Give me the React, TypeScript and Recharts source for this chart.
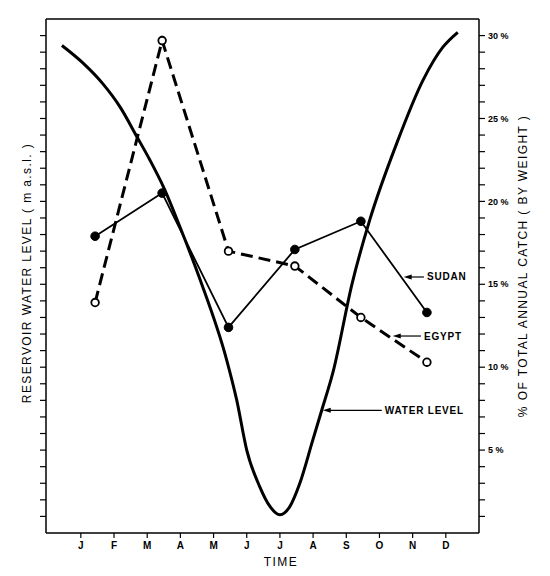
import {
  ComposedChart,
  Line,
  XAxis,
  YAxis,
  ReferenceLine,
  Label,
} from "recharts";

// month letters on the time axis (tick 0 = January)
const MONTHS = ["J", "F", "M", "A", "M", "J", "J", "A", "S", "O", "N", "D"];
const MONTH_TICKS = [0, 1, 2, 3, 4, 5, 6, 7, 8, 9, 10, 11];

// bimonthly catch samples (month position, % of annual catch)
const SAMPLE_X = [0.43, 2.45, 4.45, 6.45, 8.44, 10.43];
const SUDAN = [17.9, 20.5, 12.4, 17.1, 18.8, 13.3];
const EGYPT = [13.9, 29.7, 17.0, 16.1, 13.0, 10.3];

// reservoir water level (left axis, unlabelled)
const LEVEL_X = [-0.57, 0.06, 0.66, 1.18, 1.69, 2.08, 2.53, 2.98, 3.59, 4.4, 4.7, 5.0, 5.39, 5.7, 6.0, 6.3, 6.6, 6.99, 7.26, 7.6, 8.17, 8.71, 9.52, 10.31, 10.91, 11.36];
const LEVEL = [29.4, 28.35, 27.1, 25.7, 23.9, 22.5, 20.7, 18.5, 15.3, 10.4, 8.0, 5.0, 2.8, 1.6, 1.1, 1.6, 3.0, 5.6, 7.4, 9.7, 15.0, 18.9, 23.5, 27.3, 29.3, 30.2];

const LEFT_TICKS = Array.from({ length: 30 }, (_, i) => i + 1);
const RIGHT_TICKS = Array.from({ length: 30 }, (_, i) => i + 1);

const sudanData = SAMPLE_X.map((x, i) => ({ x, v: SUDAN[i] }));
const egyptData = SAMPLE_X.map((x, i) => ({ x, v: EGYPT[i] }));
const levelData = LEVEL_X.map((x, i) => ({ x, v: LEVEL[i] }));

const FONT = "'Liberation Sans', Arial, sans-serif";
const INK = "#000";

// arrow pointing left, with a caption after its tail
const arrowShape = (text: string) => (props: any) => {
  const { x1, y1, x2, y2 } = props;
  const left = Math.min(x1, x2);
  const right = Math.max(x1, x2);
  const y = (y1 + y2) / 2;
  return (
    <g>
      <line x1={left + 5} y1={y} x2={right} y2={y} stroke={INK} strokeWidth={1.2} />
      <polygon points={`${left},${y} ${left + 8},${y - 2.5} ${left + 8},${y + 2.5}`} fill={INK} />
      <text
        x={right + 3}
        y={y + 3.5}
        fontFamily={FONT}
        fontWeight="bold"
        fontSize={10}
        letterSpacing={0.8}
        fill={INK}
      >
        {text}
      </text>
    </g>
  );
};

const TitleText = ({ x, y, angle, children }: any) => (
  <text
    x={x}
    y={y}
    transform={angle ? `rotate(${angle}, ${x}, ${y})` : undefined}
    textAnchor="middle"
    fontFamily={FONT}
    fontSize={12}
    letterSpacing={1.4}
    fill={INK}
    stroke="none"
  >
    {children}
  </text>
);

const App = () => {
  const tickStyle = { fontFamily: FONT, fontSize: 9, fontWeight: "bold", fill: INK };
  return (
    <div style={{ position: "absolute", left: 0, top: 0, background: "#fff" }}>
      <ComposedChart width={550} height={576} margin={{ top: 19, right: 0, bottom: 0, left: 0 }}>
        <XAxis
          dataKey="x"
          type="number"
          domain={[-1.05, 12]}
          ticks={MONTH_TICKS}
          tickFormatter={(v: number) => MONTHS[v]}
          allowDataOverflow
          height={43}
          tickSize={5}
          tickMargin={4}
          axisLine={{ stroke: INK, strokeWidth: 1.5 }}
          tickLine={{ stroke: INK, strokeWidth: 1.2 }}
          tick={{ ...tickStyle, fontSize: 10 }}
        >
          <Label content={() => <TitleText x={281} y={566}>TIME</TitleText>} />
        </XAxis>
        <YAxis
          yAxisId="left"
          orientation="left"
          type="number"
          domain={[0, 31]}
          ticks={LEFT_TICKS}
          tickFormatter={() => ""}
          width={46}
          tickSize={6}
          axisLine={{ stroke: INK, strokeWidth: 1.5 }}
          tickLine={{ stroke: INK, strokeWidth: 1.2 }}
          tick={tickStyle}
        >
          <Label
            content={() => (
              <TitleText x={31} y={273} angle={-90}>
                RESERVOIR WATER LEVEL ( m a.s.l. )
              </TitleText>
            )}
          />
        </YAxis>
        <YAxis
          yAxisId="right"
          orientation="right"
          type="number"
          domain={[0, 31]}
          ticks={RIGHT_TICKS}
          tickFormatter={(v: number) => (v % 5 === 0 ? `${v} %` : "")}
          width={71}
          tickSize={6}
          tickMargin={3}
          axisLine={{ stroke: INK, strokeWidth: 1.5 }}
          tickLine={{ stroke: INK, strokeWidth: 1.2 }}
          tick={tickStyle}
        >
          <Label
            content={() => (
              <TitleText x={527} y={266} angle={-90}>
                % OF TOTAL ANNUAL CATCH ( BY WEIGHT )
              </TitleText>
            )}
          />
        </YAxis>

        <ReferenceLine yAxisId="right" y={31} stroke={INK} strokeWidth={1.5} ifOverflow="visible" />

        <Line
          yAxisId="left"
          data={levelData}
          dataKey="v"
          type="monotone"
          stroke={INK}
          strokeWidth={3}
          dot={false}
          activeDot={false}
          isAnimationActive={false}
        />
        <Line
          yAxisId="right"
          data={egyptData}
          dataKey="v"
          type="linear"
          stroke={INK}
          strokeWidth={3}
          strokeDasharray="12 6"
          dot={{ r: 3.8, fill: "#fff", stroke: INK, strokeWidth: 1.8, strokeDasharray: "" }}
          activeDot={false}
          isAnimationActive={false}
        />
        <Line
          yAxisId="right"
          data={sudanData}
          dataKey="v"
          type="linear"
          stroke={INK}
          strokeWidth={1.8}
          dot={{ r: 4.3, fill: INK, stroke: INK, strokeWidth: 1 }}
          activeDot={false}
          isAnimationActive={false}
        />

        <ReferenceLine
          yAxisId="right"
          segment={[{ x: 9.73, y: 15.44 }, { x: 10.34, y: 15.44 }]}
          shape={arrowShape("SUDAN")}
          ifOverflow="visible"
        />
        <ReferenceLine
          yAxisId="right"
          segment={[{ x: 9.4, y: 11.88 }, { x: 10.25, y: 11.88 }]}
          shape={arrowShape("EGYPT")}
          ifOverflow="visible"
        />
        <ReferenceLine
          yAxisId="right"
          segment={[{ x: 7.29, y: 7.4 }, { x: 9.07, y: 7.4 }]}
          shape={arrowShape("WATER LEVEL")}
          ifOverflow="visible"
        />
      </ComposedChart>
    </div>
  );
};

export default App;
